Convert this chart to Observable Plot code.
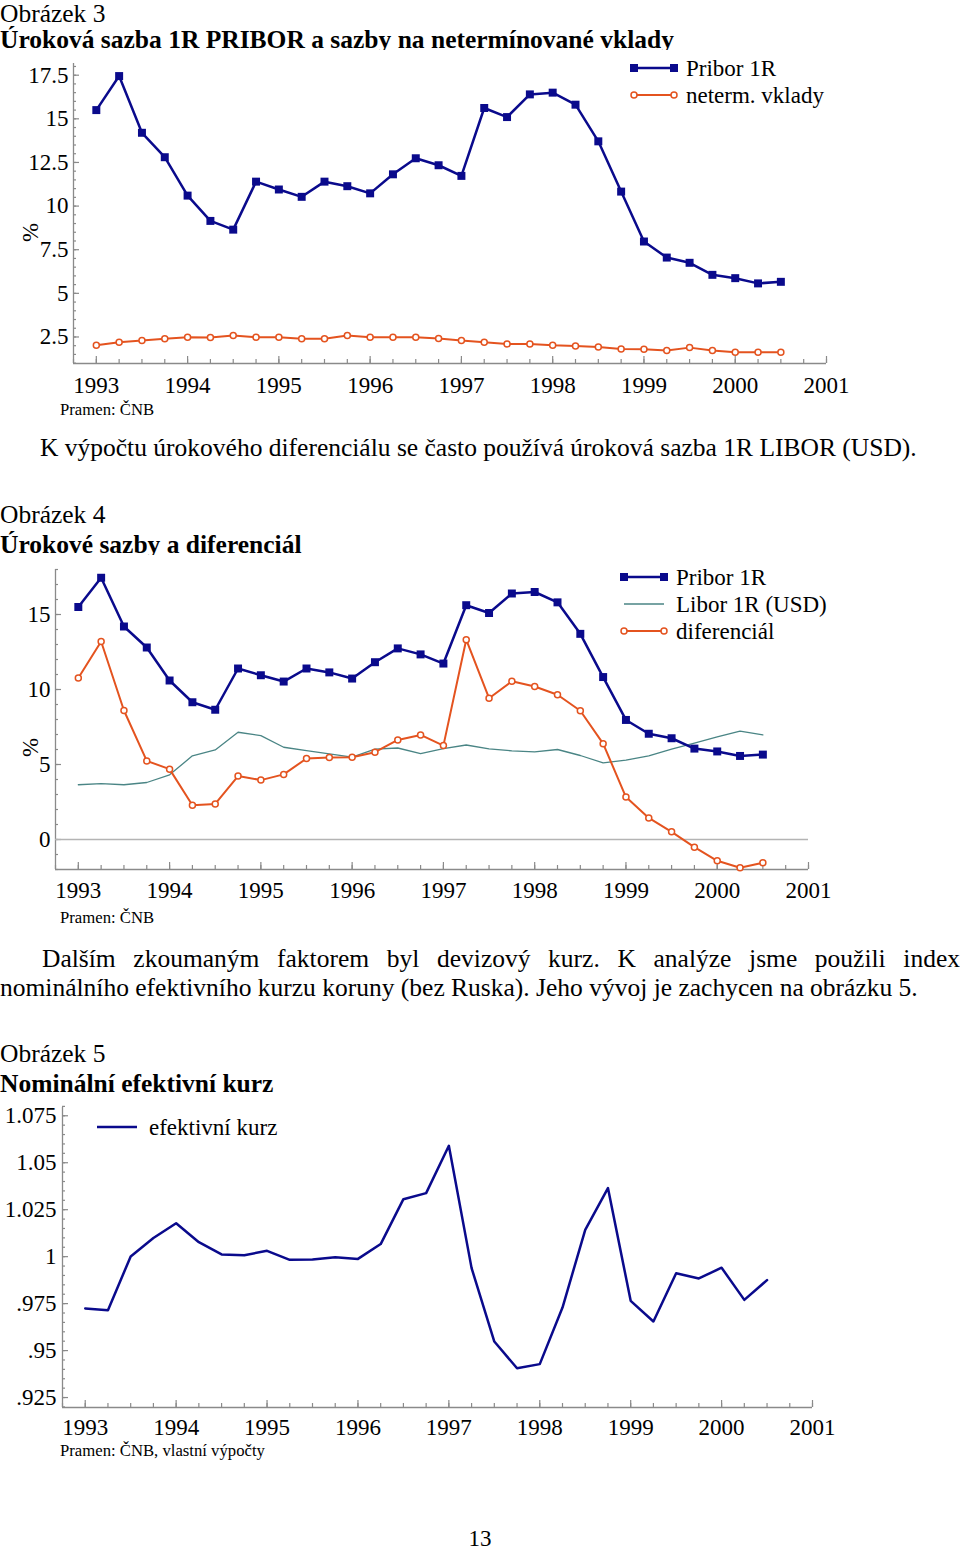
<!DOCTYPE html>
<html><head><meta charset="utf-8">
<script src="https://cdn.jsdelivr.net/npm/d3@7"></script>
<script src="https://cdn.jsdelivr.net/npm/@observablehq/plot@0.6"></script>
<style>
body{margin:0;background:#fff;}
#page{position:relative;width:960px;height:1550px;font-family:"Liberation Serif","Times New Roman",serif;color:#000;overflow:hidden;}
.t{position:absolute;left:0;white-space:nowrap;font-size:25.5px;line-height:28px;}
.b{font-weight:bold;}
.src{position:absolute;left:60px;font-size:16.7px;line-height:18px;white-space:nowrap;}
.chart{position:absolute;left:0;}
.legend{position:absolute;font-size:23px;line-height:27px;white-space:nowrap;}
.legend .row{display:flex;align-items:center;height:27px;}
.legend svg{margin-right:8px;flex:none;}
.pl{position:absolute;font-size:25.5px;line-height:29px;white-space:nowrap;}
.just{text-align:justify;text-align-last:justify;white-space:normal;}
</style></head>
<body><div id="page">
<div class="t" style="top:3px;line-height:22px">Obrázek 3</div>
<div class="t b" style="top:26px">Úroková sazba 1R PRIBOR a sazby na netermínované vklady</div>
<div class="chart" id="c1" style="top:50px"></div>
<div class="legend" id="l1" style="top:54.5px;left:630px"></div>
<div class="src" style="top:401px">Pramen: ČNB</div>
<div class="t" style="top:434px;left:40px">K výpočtu úrokového diferenciálu se často používá úroková sazba 1R LIBOR (USD).</div>

<div class="t" style="top:501px">Obrázek 4</div>
<div class="t b" style="top:531px">Úrokové sazby a diferenciál</div>
<div class="chart" id="c2" style="top:555px"></div>
<div class="legend" id="l2" style="top:563.5px;left:620px"></div>
<div class="src" style="top:909px">Pramen: ČNB</div>
<div class="pl just" style="top:943.5px;left:42px;width:918px">Dalším zkoumaným faktorem byl devizový kurz. K analýze jsme použili index</div>
<div class="pl" style="top:972.5px;left:0">nominálního efektivního kurzu koruny (bez Ruska). Jeho vývoj je zachycen na obrázku 5.</div>

<div class="t" style="top:1040px">Obrázek 5</div>
<div class="t b" style="top:1070px">Nominální efektivní kurz</div>
<div class="chart" id="c3" style="top:1095px"></div>
<div class="legend" id="l3" style="top:1113.5px;left:93px"></div>
<div class="src" style="top:1442px">Pramen: ČNB, vlastní výpočty</div>
<div class="t" style="top:1529px;left:0;width:960px;text-align:center;font-size:23px;line-height:20px">13</div>
</div>
<script>
// ---- data (quarterly, 1993 Q1 – 2000 Q3) ----
const quarters = [1993, 1993.25, 1993.5, 1993.75, 1994, 1994.25, 1994.5, 1994.75,
  1995, 1995.25, 1995.5, 1995.75, 1996, 1996.25, 1996.5, 1996.75,
  1997, 1997.25, 1997.5, 1997.75, 1998, 1998.25, 1998.5, 1998.75,
  1999, 1999.25, 1999.5, 1999.75, 2000, 2000.25, 2000.5];
const pribor = [15.5, 17.45, 14.2, 12.8, 10.6, 9.15, 8.65, 11.4,
  10.95, 10.53, 11.4, 11.14, 10.73, 11.82, 12.74, 12.34,
  11.73, 15.62, 15.1, 16.4, 16.5, 15.81, 13.71, 10.83,
  7.97, 7.05, 6.75, 6.06, 5.87, 5.57, 5.66];
const neterm = [2.02, 2.2, 2.3, 2.4, 2.49, 2.47, 2.59, 2.49,
  2.49, 2.4, 2.4, 2.59, 2.49, 2.49, 2.49, 2.41,
  2.3, 2.2, 2.1, 2.1, 2.02, 1.98, 1.92, 1.81,
  1.79, 1.72, 1.89, 1.72, 1.62, 1.62, 1.62];
const libor = [3.65, 3.72, 3.65, 3.8, 4.31, 5.58, 5.97, 7.15,
  6.92, 6.15, 5.93, 5.71, 5.49, 6.02, 6.1, 5.73,
  6.06, 6.3, 6.04, 5.91, 5.84, 6.0, 5.6, 5.11,
  5.29, 5.58, 6.02, 6.42, 6.84, 7.23, 6.97];
const diferencial = [10.77, 13.2, 8.6, 5.24, 4.69, 2.28, 2.37, 4.23,
  3.96, 4.34, 5.4, 5.46, 5.49, 5.82, 6.64, 6.97,
  6.26, 13.32, 9.42, 10.55, 10.2, 9.65, 8.58, 6.39,
  2.83, 1.44, 0.51, -0.51, -1.42, -1.88, -1.55];
const kurz = [0.9724, 0.9715, 1.0001, 1.0099, 1.0178, 1.0077, 1.0012, 1.0008,
  1.0031, 0.9983, 0.9985, 0.9997, 0.9988, 1.0067, 1.0306, 1.0338,
  1.059, 0.9939, 0.9548, 0.9406, 0.9428, 0.9729, 1.0143, 1.0365,
  0.9765, 0.9655, 0.9912, 0.9884, 0.9941, 0.977, 0.9875];
const years = [1993, 1994, 1995, 1996, 1997, 1998, 1999, 2000, 2001];
const yTicks1 = [2.5, 5, 7.5, 10, 12.5, 15, 17.5];
const yTicks2 = [0, 5, 10, 15];
const yTicks3 = [0.925, 0.95, 0.975, 1, 1.025, 1.05, 1.075];
const names = {pribor: "Pribor 1R", neterm: "neterm. vklady", libor: "Libor 1R (USD)", dif: "diferenciál", kurz: "efektivní kurz"};

const navy = "#0a0a8c", orange = "#e4531f", teal = "#4a8585", axisC = "#8a8a8a";
const series = arr => quarters.map((q, i) => ({q, v: arr[i]}));
const xDomain = [1992.75, 2001];
const xMinor = d3.range(1992.75, 2001.01, 0.25);

function chart({height, marginTop, marginBottom, marginLeft, marginRight, yDomain, yLabels, yMinor, yFormat, xPad, yPad, pct, marks}) {
  const W = 960, plotW = W - marginLeft - marginRight, plotH = height - marginTop - marginBottom;
  const extra = pct ? [Plot.text(["%"], {frameAnchor: "left", rotate: -90, textAnchor: "middle", dx: pct[0], dy: pct[1], fontSize: 23})] : [];
  return Plot.plot({
    width: W, height, marginTop, marginBottom, marginLeft, marginRight,
    x: {domain: xDomain},
    y: {domain: yDomain},
    style: {fontFamily: "Liberation Serif, Times New Roman, serif", fontSize: "23px", color: "#000", background: "white", overflow: "visible"},
    marks: [
      Plot.ruleX([xDomain[0]], {stroke: axisC, strokeWidth: 1.3}),
      Plot.ruleY([yDomain[0]], {stroke: axisC, strokeWidth: 1.3}),
      Plot.tickX(xMinor, {x: d => d, insetTop: plotH - 4, stroke: axisC, strokeWidth: 1.2}),
      Plot.tickX(years, {x: d => d, insetTop: plotH - 7, stroke: axisC, strokeWidth: 1.2}),
      Plot.tickY(yMinor, {y: d => d, insetRight: plotW - 3, stroke: axisC, strokeWidth: 1.2}),
      Plot.tickY(yLabels, {y: d => d, insetRight: plotW - 6, stroke: axisC, strokeWidth: 1.2}),
      Plot.axisX(years, {tickSize: 0, tickPadding: xPad, tickFormat: d => String(d), fontSize: 23, label: null}),
      Plot.axisY(yLabels, {tickSize: 0, tickPadding: yPad, tickFormat: yFormat, fontSize: 23, label: null}),
      ...extra,
      ...marks
    ]
  });
}

const priborData = series(pribor), netermData = series(neterm), liborData = series(libor), difData = series(diferencial), kurzData = series(kurz);

document.getElementById("c1").append(chart({
  height: 350, marginTop: 13, marginBottom: 37, marginLeft: 73, marginRight: 134,
  yDomain: [0.98, 18.17], yLabels: yTicks1, yMinor: d3.range(1, 18.01, 0.5), yFormat: d => String(d),
  xPad: 13, yPad: 5, pct: [-43, 19],
  marks: [
    Plot.line(netermData, {x: "q", y: "v", stroke: orange, strokeWidth: 2}),
    Plot.dot(netermData, {x: "q", y: "v", r: 3, stroke: orange, fill: "white", strokeWidth: 1.5}),
    Plot.line(priborData, {x: "q", y: "v", stroke: navy, strokeWidth: 2.5}),
    Plot.dot(priborData, {x: "q", y: "v", symbol: "square", r: 4.5, fill: navy})
  ]
}));

document.getElementById("c2").append(chart({
  height: 345, marginTop: 14, marginBottom: 31, marginLeft: 55, marginRight: 152,
  yDomain: [-2, 18], yLabels: yTicks2, yMinor: d3.range(-2, 18.01, 1), yFormat: d => String(d),
  xPad: 12, yPad: 5, pct: [-25, 28],
  marks: [
    Plot.ruleY([0], {stroke: "#b4b4b4", strokeWidth: 1.6}),
    Plot.line(liborData, {x: "q", y: "v", stroke: teal, strokeWidth: 1.3}),
    Plot.line(difData, {x: "q", y: "v", stroke: orange, strokeWidth: 2}),
    Plot.dot(difData, {x: "q", y: "v", r: 3, stroke: orange, fill: "white", strokeWidth: 1.5}),
    Plot.line(priborData, {x: "q", y: "v", stroke: navy, strokeWidth: 2.5}),
    Plot.dot(priborData, {x: "q", y: "v", symbol: "square", r: 4.5, fill: navy})
  ]
}));

document.getElementById("c3").append(chart({
  height: 345, marginTop: 12, marginBottom: 33, marginLeft: 62, marginRight: 148,
  yDomain: [0.9197, 1.0794], yLabels: yTicks3, yMinor: d3.range(0.92, 1.0801, 0.005),
  yFormat: d => String(d).replace(/^0\./, "."), xPad: 11, yPad: 6, pct: null,
  marks: [
    Plot.line(kurzData, {x: "q", y: "v", stroke: navy, strokeWidth: 2.5})
  ]
}));

// ---- legends ----
function swatch(kind, color) {
  const w = 48;
  let s = `<svg width="${w}" height="14" viewBox="0 0 ${w} 14">`;
  const lw = kind === "thin" ? 1.3 : kind === "circle" ? 2 : 2.5;
  s += `<line x1="4" y1="7" x2="${w - 4}" y2="7" stroke="${color}" stroke-width="${lw}"/>`;
  if (kind === "square") s += `<rect x="0" y="3" width="8" height="8" fill="${color}"/><rect x="${w - 8}" y="3" width="8" height="8" fill="${color}"/>`;
  if (kind === "circle") s += `<circle cx="4" cy="7" r="3" fill="white" stroke="${color}" stroke-width="1.5"/><circle cx="${w - 4}" cy="7" r="3" fill="white" stroke="${color}" stroke-width="1.5"/>`;
  return s + "</svg>";
}
function legend(id, items) {
  document.getElementById(id).innerHTML = items.map(([k, c, label]) => `<div class="row">${swatch(k, c)}<span>${label}</span></div>`).join("");
}
legend("l1", [["square", navy, names.pribor], ["circle", orange, names.neterm]]);
legend("l2", [["square", navy, names.pribor], ["thin", teal, names.libor], ["circle", orange, names.dif]]);
legend("l3", [["line", navy, names.kurz]]);
</script>
</body></html>
